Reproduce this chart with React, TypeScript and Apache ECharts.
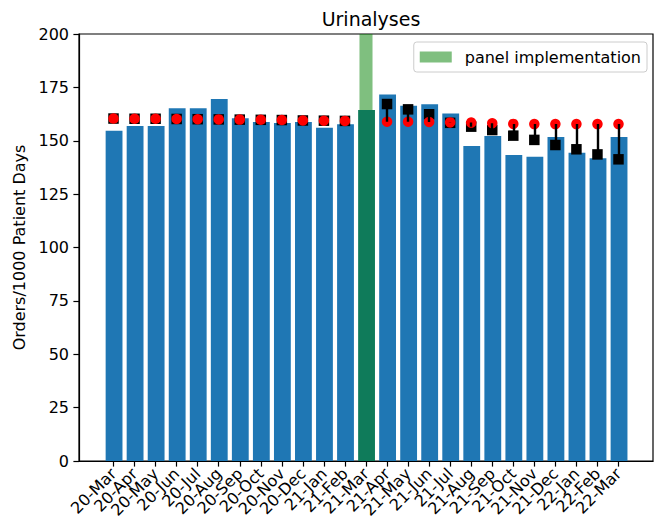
import React, { useEffect, useRef } from "react";
import * as echarts from "echarts";

const months = [
  "20-Mar", "20-Apr", "20-May", "20-Jun", "20-Jul", "20-Aug", "20-Sep", "20-Oct", "20-Nov", "20-Dec",
  "21-Jan", "21-Feb", "21-Mar", "21-Apr", "21-May", "21-Jun", "21-Jul", "21-Aug", "21-Sep", "21-Oct",
  "21-Nov", "21-Dec", "22-Jan", "22-Feb", "22-Mar",
];
const orders = [
  154.7, 156.9, 156.9, 165.2, 165.2, 169.6, 160.5, 158.8, 158.3, 158.8, 156.1, 157.7, 164.4,
  171.7, 166.4, 167.1, 162.8, 147.5, 152.2, 143.3, 142.5, 151.8, 144.4, 141.8, 151.8,
];
const expected = [
  160.4, 160.3, 160.3, 160.2, 160.1, 160.0, 159.9, 159.8, 159.7, 159.5, 159.4, 159.3, null,
  158.9, 158.9, 158.8, 158.6, 158.5, 158.2, 157.9, 157.8, 157.8, 157.8, 157.8, 157.8,
];
const observed = [
  160.4, 160.3, 160.3, 160.2, 160.1, 160.0, 159.9, 159.8, 159.7, 159.5, 159.4, 159.3, null,
  167.2, 164.7, 162.4, 158.4, 156.6, 155.0, 152.4, 150.4, 148.0, 146.0, 143.6, 141.3,
];
const panelIndex = 12;
const yTicks = [0, 25, 50, 75, 100, 125, 150, 175, 200];

export default function App() {
  const ref = useRef<HTMLDivElement>(null);
  useEffect(() => {
    if (!ref.current) return;
    const chart = echarts.init(ref.current, null, { renderer: "svg" });
    const font = "DejaVu Sans";
    const n = months.length;
    const xMin = -1.64;
    const xMax = n - 1 + 1.64;
    const plotLeft = 79;
    const plotWidth = 574;
    const unit = plotWidth / (xMax - xMin);
    const catLeft = plotLeft + (-0.5 - xMin) * unit;
    const pts = (arr: (number | null)[]) =>
      arr.map((v, i) => (v == null ? null : [i, v])).filter((d) => d !== null);
    const segs = expected
      .map((v, i) =>
        v == null || observed[i] == null ? null : { coords: [[i, v], [i, observed[i]]] }
      )
      .filter((d) => d !== null);
    chart.setOption({
      animation: false,
      textStyle: { fontFamily: font },
      title: {
        text: "Urinalyses",
        left: 366,
        textAlign: "center",
        top: 4,
        textStyle: { fontSize: 19, fontWeight: "normal", color: "#000", fontFamily: font },
      },
      legend: {
        right: 14,
        top: 42,
        orient: "vertical",
        data: [{ name: "panel implementation", icon: "rect" }],
        itemWidth: 32,
        itemHeight: 11,
        padding: [7, 6, 7, 6],
        borderColor: "#cccccc",
        borderWidth: 1,
        borderRadius: 3,
        textStyle: { fontSize: 16, color: "#000", fontFamily: font, padding: [0, 0, 0, 8] },
      },
      grid: [
        {
          left: plotLeft,
          top: 34,
          width: plotWidth,
          height: 427,
          show: true,
          borderColor: "#000",
          borderWidth: 1.2,
          backgroundColor: "transparent",
        },
        {
          left: catLeft,
          top: 34,
          width: n * unit,
          height: 427,
          show: false,
        },
      ],
      xAxis: [
        {
          type: "value",
          gridIndex: 0,
          min: xMin,
          max: xMax,
          splitLine: { show: false },
          axisLine: { show: true, onZero: false, lineStyle: { color: "#000", width: 1.2 } },
          axisTick: { show: false },
          axisLabel: { show: false },
        },
        {
          type: "category",
          gridIndex: 1,
          data: months,
          boundaryGap: true,
          axisLine: { show: false },
          axisTick: {
            show: true,
            alignWithLabel: true,
            interval: 0,
            length: 5.6,
            lineStyle: { color: "#000", width: 1.2 },
          },
          axisLabel: {
            interval: 0,
            rotate: 45,
            fontSize: 16,
            color: "#000",
            margin: 10,
            fontFamily: font,
          },
        },
      ],
      yAxis: [
        {
          type: "value",
          gridIndex: 0,
          min: 0,
          max: 200,
          interval: 25,
          name: "Orders/1000 Patient Days",
          nameLocation: "middle",
          nameGap: 47,
          nameTextStyle: { fontSize: 16, color: "#000", fontFamily: font },
          splitLine: { show: false },
          axisLine: { show: true, onZero: false, lineStyle: { color: "#000", width: 1.2 } },
          axisTick: { show: true, length: 5.6, lineStyle: { color: "#000", width: 1.2 } },
          axisLabel: {
            fontSize: 16,
            color: "#000",
            margin: 10,
            fontFamily: font,
            formatter: (v: number) => (yTicks.includes(v) ? String(v) : ""),
          },
        },
        {
          type: "value",
          gridIndex: 1,
          min: 0,
          max: 200,
          show: false,
        },
      ],
      series: [
        {
          name: "panel implementation",
          type: "bar",
          data: [],
          z: 1,
          itemStyle: { color: "rgba(0,128,0,0.5)" },
          markArea: {
            silent: true,
            itemStyle: { color: "rgba(0,128,0,0.5)" },
            data: [[{ xAxis: panelIndex - 0.31, yAxis: 0 }, { xAxis: panelIndex + 0.31, yAxis: 200 }]],
          },
        },
        {
          name: "orders",
          type: "bar",
          z: 2,
          barWidth: 0.8 * unit,
          data: orders.map((v, i) => ({
            value: [i, v],
            itemStyle: { color: i === panelIndex ? "#0f7b5a" : "#1f77b4" },
          })),
        },
        {
          name: "observed",
          type: "scatter",
          z: 3,
          symbol: "rect",
          symbolSize: 10.5,
          itemStyle: { color: "#000", opacity: 1 },
          data: pts(observed),
        },
        {
          name: "expected",
          type: "scatter",
          z: 4,
          symbol: "circle",
          symbolSize: 10.5,
          itemStyle: { color: "#ff0000", opacity: 1 },
          data: pts(expected),
        },
        {
          name: "diff",
          type: "lines",
          coordinateSystem: "cartesian2d",
          z: 5,
          symbol: "none",
          lineStyle: { color: "#000", width: 2.4, opacity: 1 },
          data: segs,
        },
      ],
    });
    return () => chart.dispose();
  }, []);
  return (
    <div
      ref={ref}
      style={{ position: "absolute", left: 0, top: 0, width: 661, height: 525, background: "#fff" }}
    />
  );
}
